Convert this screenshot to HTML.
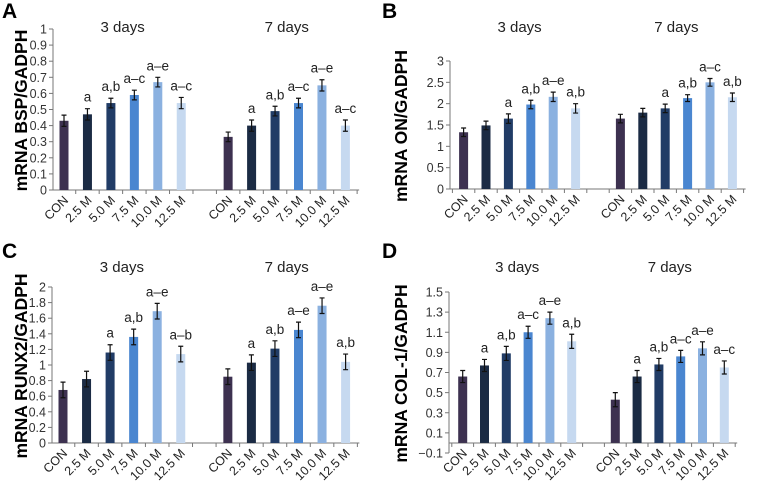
<!DOCTYPE html>
<html><head><meta charset="utf-8"><style>
body{margin:0;background:#fff;}
svg{display:block;font-family:"Liberation Sans",Arial,sans-serif;}
</style></head><body>
<svg id="fig" width="758" height="483" viewBox="0 0 758 483"></svg>
<script>
const categories = ["CON","2.5 M","5.0 M","7.5 M","10.0 M","12.5 M"];
const groups = ["3 days","7 days"];
const aDay3 = [0.43,0.47,0.54,0.59,0.67,0.54];
const aDay7 = [0.33,0.40,0.49,0.54,0.65,0.40];
const aErr3 = [0.035,0.035,0.03,0.03,0.03,0.035];
const aErr7 = [0.03,0.035,0.03,0.03,0.035,0.035];
const aSig3 = ["","a","a,b","a–c","a–e","a–c"];
const aSig7 = ["","a","a,b","a–c","a–e","a–c"];
const aTicks = [0,0.1,0.2,0.3,0.4,0.5,0.6,0.7,0.8,0.9,1];
const bDay3 = [1.33,1.49,1.65,1.98,2.16,1.89];
const bDay7 = [1.65,1.79,1.89,2.13,2.50,2.15];
const bErr3 = [0.1,0.1,0.11,0.1,0.11,0.11];
const bErr7 = [0.1,0.1,0.1,0.08,0.09,0.1];
const bSig3 = ["","","a","a,b","a–e","a,b"];
const bSig7 = ["","","a","a,b","a–c","a,b"];
const bTicks = [0,0.5,1,1.5,2,2.5,3];
const cDay3 = [0.68,0.82,1.16,1.36,1.69,1.14];
const cDay7 = [0.85,1.03,1.21,1.45,1.76,1.04];
const cErr3 = [0.1,0.1,0.1,0.1,0.1,0.1];
const cErr7 = [0.1,0.1,0.1,0.1,0.1,0.1];
const cSig3 = ["","","a","a,b","a–e","a–b"];
const cSig7 = ["","a","a,b","a–e","a–e","a,b"];
const cTicks = [0,0.2,0.4,0.6,0.8,1,1.2,1.4,1.6,1.8,2];
const dDay3 = [0.66,0.77,0.89,1.10,1.24,1.01];
const dDay7 = [0.43,0.66,0.78,0.86,0.94,0.75];
const dErr3 = [0.06,0.06,0.07,0.06,0.06,0.07];
const dErr7 = [0.07,0.06,0.06,0.06,0.065,0.065];
const dSig3 = ["","a","a,b","a–c","a–e","a,b"];
const dSig7 = ["","a","a,b","a–c","a–e","a–c"];
const dTicks = [-0.1,0.1,0.3,0.5,0.7,0.9,1.1,1.3,1.5];

const colors = ["#3d3150","#1b2b44","#213c66","#4a86d0","#8bb1e0","#c6d9f0"];
const svg = document.getElementById('fig');
const NS = "http://www.w3.org/2000/svg";
function mk(tag, attrs, parent){const e=document.createElementNS(NS,tag);for(const k in attrs)e.setAttribute(k,attrs[k]);(parent||svg).appendChild(e);return e;}

function panel(cfg){
  const g = mk('g',{});
  
  
  const ymin=cfg.ticks[0], ymax=cfg.ticks[cfg.ticks.length-1];
  const y = v => cfg.yBot + (v-ymin)/(ymax-ymin)*(cfg.yTop-cfg.yBot);
  const x = slot => cfg.x0 + slot*cfg.s;
  const y0 = y(0);
  const L = mk('text',{x:cfg.ox+2,y:cfg.oy+18,'font-size':21,'font-weight':'bold',fill:'#000'},g);
  L.textContent=cfg.letter;
  
  
  const yt = mk('text',{x:0,y:0,'font-size':17.5,'font-weight':'bold','text-anchor':'middle',fill:'#000',transform:`translate(${cfg.ox+27},${(cfg.yTop+cfg.yBot)/2+1}) rotate(-90)`},g);
  yt.textContent=cfg.ytitle;
  
  
  const ya = mk('line',{x1:cfg.ax,x2:cfg.ax,y1:cfg.yTop,y2:cfg.yBot,stroke:'#777','stroke-width':1},g);
  
  
  cfg.ticks.forEach(t=>{
    mk('line',{x1:cfg.ax-4,x2:cfg.ax,y1:y(t),y2:y(t),stroke:'#777'},g);
    const tl = mk('text',{x:cfg.ax-6,y:y(t)+4.5,'font-size':12.5,'text-anchor':'end',fill:'#333'},g);
    tl.textContent = String(t).replace('-','−');
    
    
  });
  const xEnd = x(12)+cfg.s/2+2;
  const xa = mk('line',{x1:cfg.ax,x2:xEnd,y1:y0,y2:y0,stroke:'#777'},g);
  
  
  for(let k=0;k<=13;k++){
    const tx = x(k)-cfg.s/2;
    if(tx<cfg.ax) continue;
    mk('line',{x1:tx,x2:tx,y1:y0,y2:y0+4,stroke:'#777'},g);
  }
  const series=[[cfg.d3,cfg.e3,cfg.s3],[cfg.d7,cfg.e7,cfg.s7]];
  series.forEach((sr,gi)=>{
    const gt = mk('text',{x:(x(gi*7)+x(gi*7+5))/2,y:cfg.oy+32,'font-size':15,'text-anchor':'middle',fill:'#222'},g);
    gt.textContent=groups[gi];
    
    
    sr[0].forEach((v,i)=>{
      const cx=x(gi*7+i);
      const b=mk('rect',{x:cx-4.5,y:Math.min(y(v),y0),width:9,height:Math.abs(y0-y(v)),fill:colors[i]},g);
      
      
      const e=sr[1][i], top=y(v+e), bot=y(v-e);
      const eb=mk('path',{d:`M${cx},${top}V${bot}M${cx-2.5},${top}H${cx+2.5}M${cx-2.5},${bot}H${cx+2.5}`,stroke:'#111','stroke-width':1.2,fill:'none'},g);
      
      
      if(sr[2][i]){
        const st=mk('text',{x:cx,y:top-7,'font-size':13.5,'text-anchor':'middle',fill:'#222'},g);
        st.textContent=sr[2][i];
        
        
      }
      const xl=mk('text',{x:0,y:0,'font-size':12.5,'text-anchor':'end',fill:'#222',transform:`translate(${cx+5},${y0+11}) rotate(-45)`},g);
      xl.textContent=categories[i];
      
      
    });
  });
}
panel({letter:'A',ox:0,oy:0,ytitle:'mRNA BSP/GADPH',ax:53,yTop:29,yBot:190,x0:64,s:23.45,ticks:aTicks,d3:aDay3,d7:aDay7,e3:aErr3,e7:aErr7,s3:aSig3,s7:aSig7});
panel({letter:'B',ox:380,oy:0,ytitle:'mRNA ON/GADPH',ax:450,yTop:61,yBot:189,x0:463.6,s:22.4,ticks:bTicks,d3:bDay3,d7:bDay7,e3:bErr3,e7:bErr7,s3:bSig3,s7:bSig7});
panel({letter:'C',ox:0,oy:240,ytitle:'mRNA RUNX2/GADPH',ax:52,yTop:287,yBot:443,x0:63,s:23.55,ticks:cTicks,d3:cDay3,d7:cDay7,e3:cErr3,e7:cErr7,s3:cSig3,s7:cSig7});
panel({letter:'D',ox:380,oy:240,ytitle:'mRNA COL-1/GADPH',ax:449,yTop:292,yBot:453,x0:462.7,s:21.8,ticks:dTicks,d3:dDay3,d7:dDay7,e3:dErr3,e7:dErr7,s3:dSig3,s7:dSig7});
</script>
</body></html>
